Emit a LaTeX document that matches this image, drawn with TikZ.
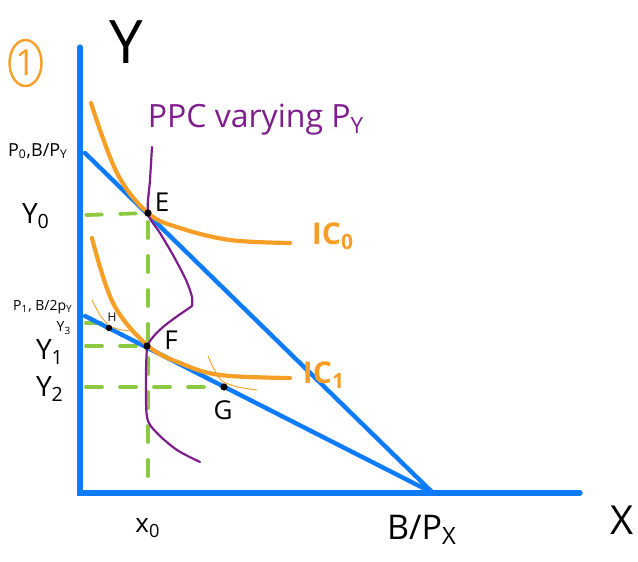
\documentclass[tikz,border=0pt]{standalone}
\usepackage{fontspec}
\setmainfont{Open Sans}
\definecolor{bblue}{RGB}{14,124,250}
\definecolor{iorange}{RGB}{247,158,38}
\definecolor{ppurple}{RGB}{125,30,140}
\definecolor{ggreen}{RGB}{140,200,64}
\newcommand{\sbs}[1]{\textsubscript{#1}}
\begin{document}
\begin{tikzpicture}[x=0.5pt,y=-0.5pt,
  axis/.style={line width=2.6pt, draw=bblue, line cap=round},
  budget/.style={line width=2.2pt, draw=bblue, line cap=round},
  icurve/.style={line width=2.1pt, draw=iorange, line cap=round},
  thinic/.style={line width=0.45pt, draw=iorange},
  ppc/.style={line width=1.1pt, draw=ppurple, line cap=round, line join=round},
  guide/.style={line width=1.9pt, draw=ggreen, dash pattern=on 8pt off 9pt, line cap=round},
  lbl/.style={text=black, inner sep=0pt},
  olbl/.style={text=iorange, inner sep=0pt, font=\fontsize{15}{15}\selectfont\bfseries}]
\useasboundingbox (0,0) rectangle (638,562);
% coordinates
\coordinate (O) at (80,493);
\coordinate (Ytop) at (80,47);
\coordinate (Xend) at (580,493);
\coordinate (A1) at (85,153);
\coordinate (A2) at (85,316);
\coordinate (BX) at (433,493);
\coordinate (E) at (148,213);
\coordinate (F) at (147,346);
\coordinate (G) at (224,387);
\coordinate (H) at (109,328);
\coordinate (Ebelow) at (148,222);
\coordinate (Xzero) at (148,490);
\coordinate (Y0s) at (86,215);
\coordinate (Y1s) at (86,346);
\coordinate (Y2s) at (86,387);
\coordinate (Y3s) at (86,323);
\coordinate (Y3e) at (101,323);
% green guides
\draw[guide] (Y0s) -- (E);
\draw[guide] (Ebelow) -- (Xzero);
\draw[guide] (Y1s) -- (F);
\draw[guide] (Y2s) -- (G);
\draw[guide] (Y3s) -- (Y3e);
% axes and budget lines
\draw[axis] (Ytop) -- (O) -- (Xend);
\draw[budget] (A1) -- (BX);
\draw[budget] (A2) -- (BX);
% indifference curves
\draw[icurve] plot[smooth, tension=0.6] coordinates {(91,103) (117,173) (148,213) (180,228) (230,240) (290,243)};
\draw[icurve] plot[smooth, tension=0.6] coordinates {(92,238) (113,303) (147,345) (180,363) (220,375) (290,378)};
\draw[thinic] plot[smooth] coordinates {(92,300) (100,315) (110,326) (122,330) (134,331)};
\draw[thinic] plot[smooth] coordinates {(208,356) (214,369) (222,381) (238,387) (257,390)};
% PPC
\draw[ppc] plot[smooth, tension=0.5] coordinates {(152,147) (150,180) (148,213) (160,233) (173,255) (186,280) (192,297) (192,306)};
\draw[ppc] (192,306) .. controls (175,318) and (155,330) .. (F);
\draw[ppc] plot[smooth, tension=0.5] coordinates {(F) (146,373) (147,417) (157,433) (177,450) (200,462)};
% points
\fill (E) circle[radius=1.8pt];
\fill (F) circle[radius=1.8pt];
\fill (G) circle[radius=1.8pt];
\fill (H) circle[radius=1.6pt];
% labels
\node[lbl, font=\fontsize{30}{30}\selectfont] (ylab) at (126,42) {Y};
\node[lbl, font=\fontsize{20}{20}\selectfont] (xlab) at (622,520) {X};
\node[inner sep=0pt, text=iorange, font=\fontsize{18}{18}\selectfont] (one) at (25.5,63) {1};
\draw[iorange, line width=1.2pt] (one) ellipse[x radius=8pt, y radius=11.5pt];
\node[lbl, font=\fontsize{9}{9}\selectfont] (p0) at (38,151) {P\sbs{0},B/P\sbs{Y}};
\node[lbl, font=\fontsize{14}{14}\selectfont] (y0) at (36,216) {Y\sbs{0}};
\node[lbl, font=\fontsize{7}{7}\selectfont] (p1) at (43,307) {P\sbs{1}, B/2p\sbs{Y}};
\node[lbl, font=\fontsize{7}{7}\selectfont] (y3) at (64,328) {Y\sbs{3}};
\node[lbl, font=\fontsize{14}{14}\selectfont] (y1) at (50,352) {Y\sbs{1}};
\node[lbl, font=\fontsize{14}{14}\selectfont] (y2) at (50,389) {Y\sbs{2}};
\node[lbl, font=\fontsize{13}{13}\selectfont] (x0) at (148,528) {x\sbs{0}};
\node[lbl, font=\fontsize{17}{17}\selectfont] (bpx) at (422,530) {B/P\sbs{X}};
\node[lbl, font=\fontsize{13}{13}\selectfont] (lE) at (162,202) {E};
\node[lbl, font=\fontsize{13}{13}\selectfont] (lF) at (171,340) {F};
\node[lbl, font=\fontsize{13}{13}\selectfont] (lG) at (223,410) {G};
\node[lbl, font=\fontsize{6}{6}\selectfont] (lH) at (112,317) {H};
\node[inner sep=0pt, text=ppurple, font=\fontsize{16}{16}\selectfont] (ppcl) at (256,120) {PPC varying P\sbs{Y}};
\node[olbl] (ic0) at (333,236) {IC\sbs{0}};
\node[olbl] (ic1) at (324,375) {IC\sbs{1}};
\end{tikzpicture}
\end{document}
